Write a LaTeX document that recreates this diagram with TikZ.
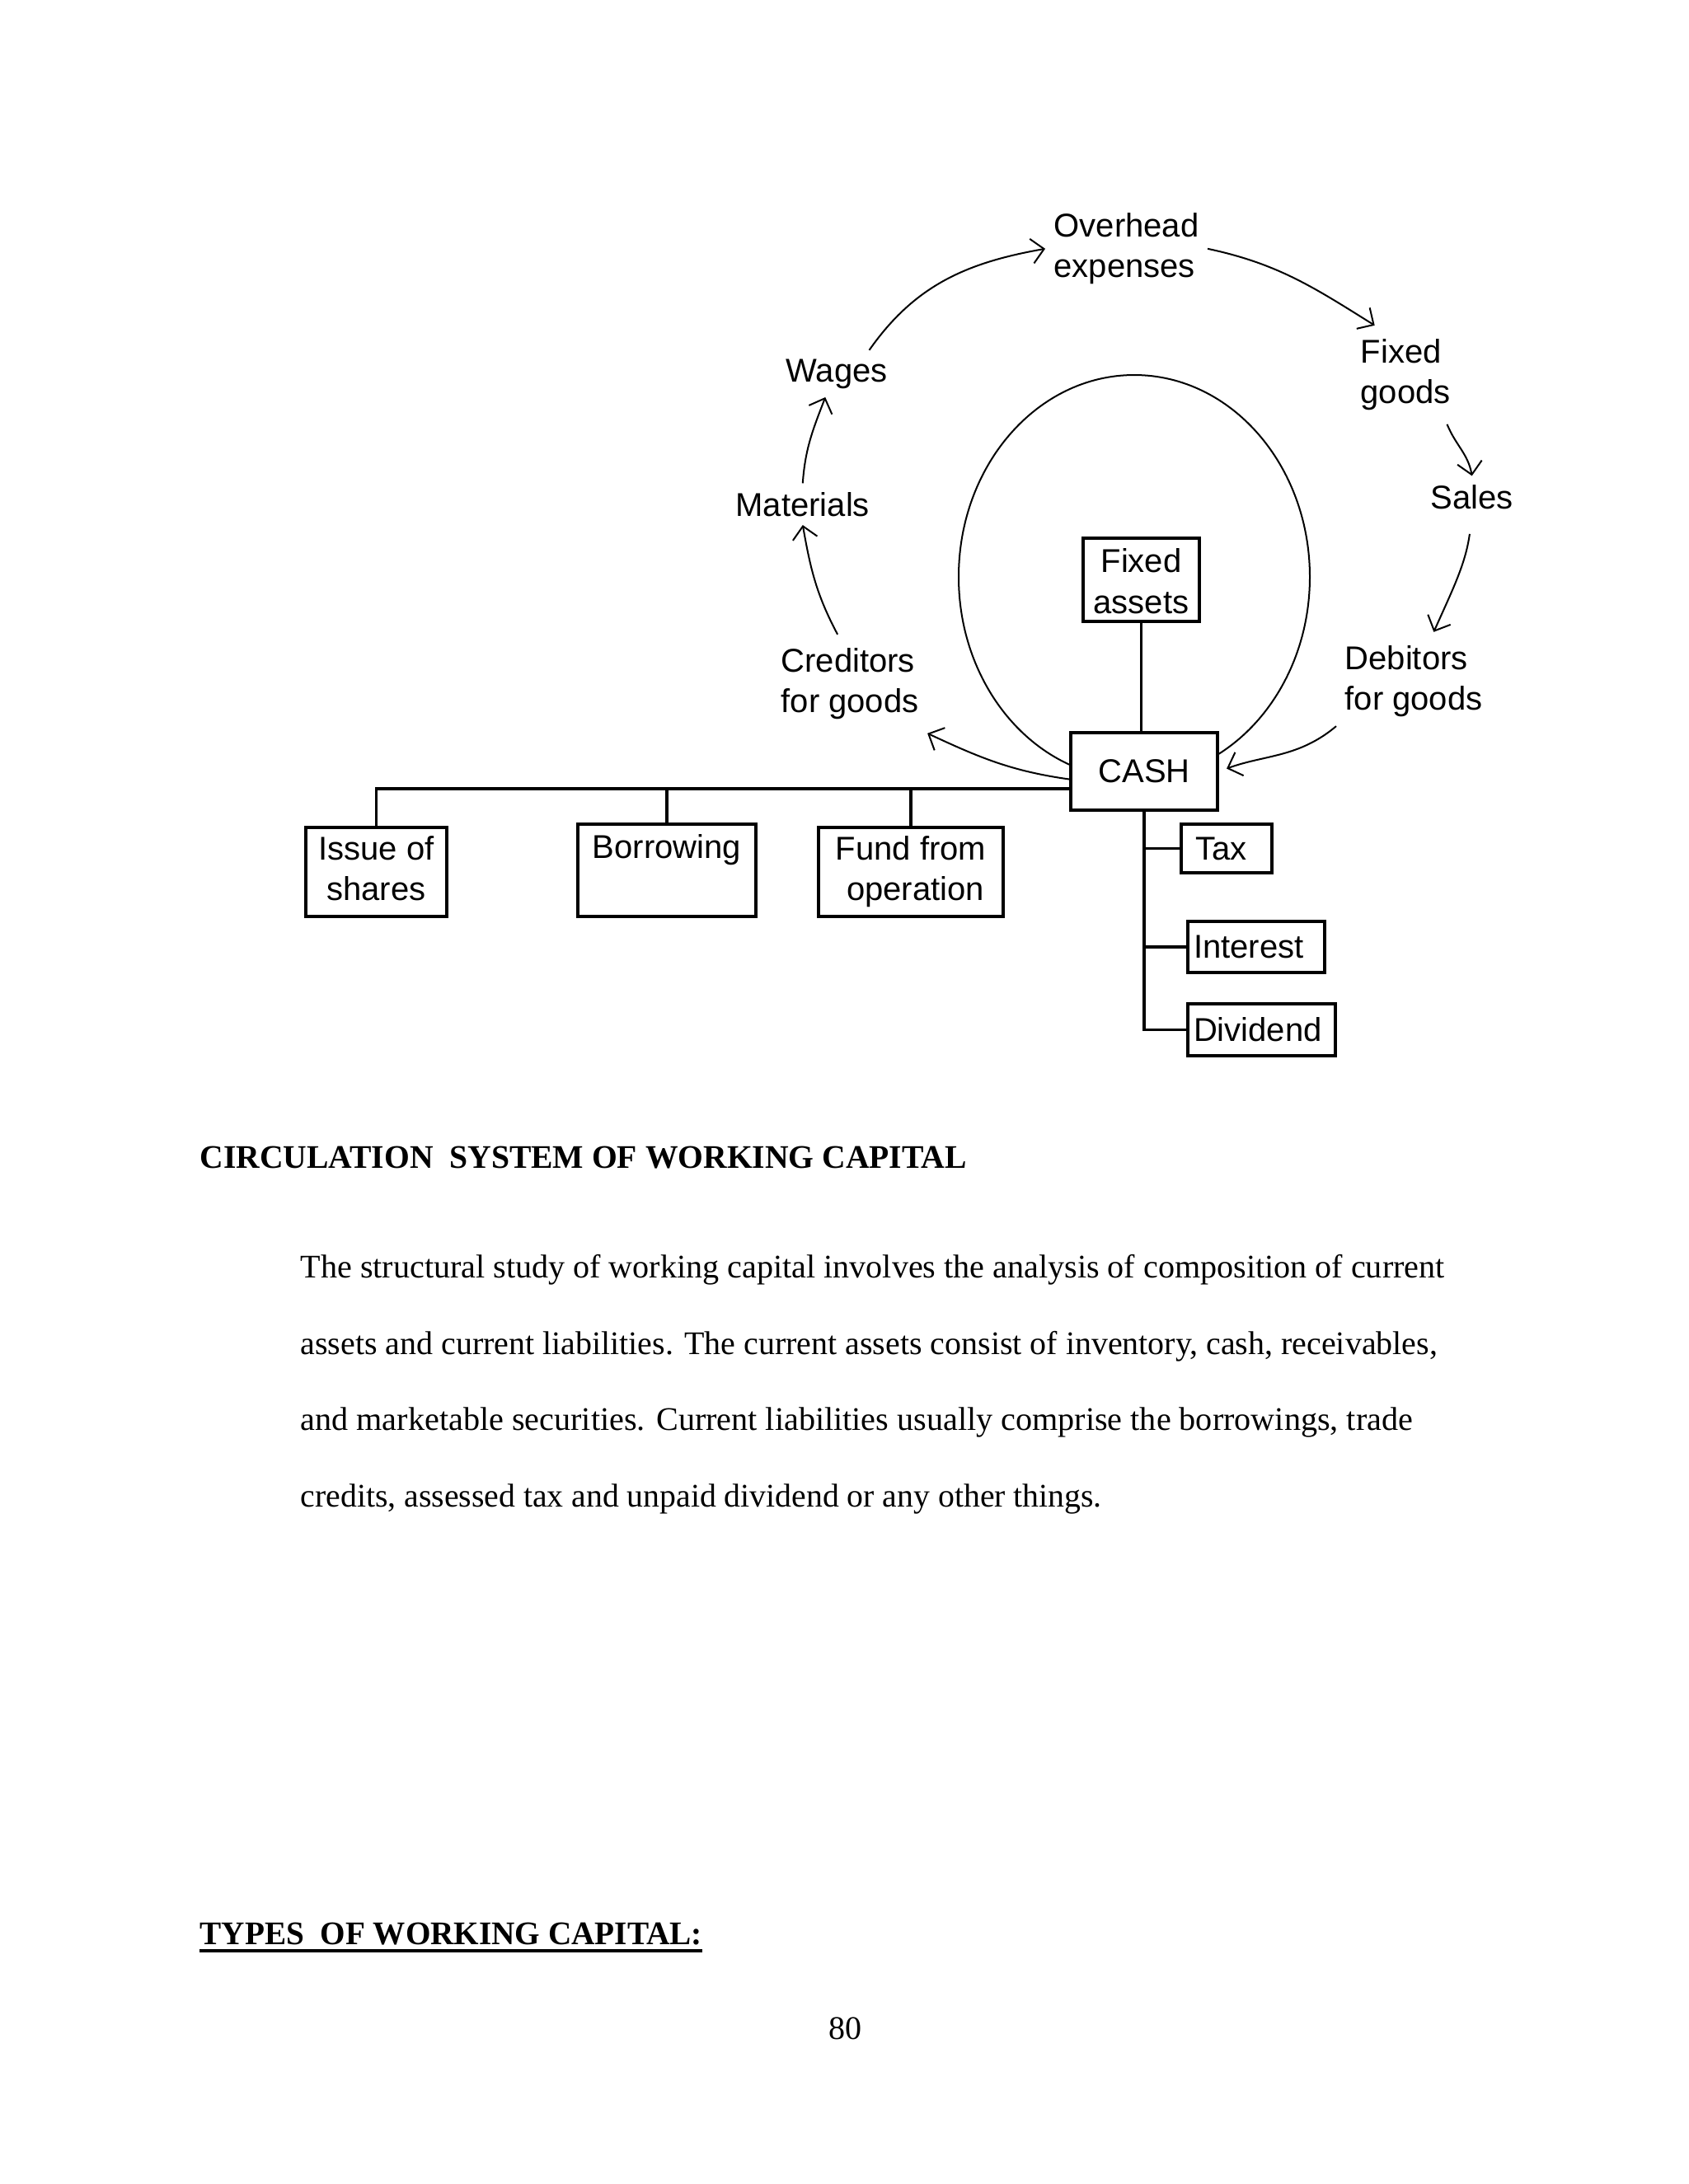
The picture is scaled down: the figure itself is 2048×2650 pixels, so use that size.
\documentclass[tikz,border=0pt]{standalone}
\usepackage{fontspec}
\setmainfont{Liberation Serif}
\newfontfamily\dfont{Liberation Sans}
\usepackage{graphicx}
\usetikzlibrary{arrows.meta}
\newcommand\twol[2]{\begin{tabular}[t]{@{}l@{}}#1\\#2\end{tabular}}
\newcommand\twoc[2]{\begin{tabular}{@{}c@{}}#1\\#2\end{tabular}}
\begin{document}
\begin{tikzpicture}[x=0.29995pt, y=-0.29995pt,
  lbl/.style={font=\dfont\fontsize{12}{14.8}\selectfont, inner sep=3pt, anchor=base west},
  boxn/.style={draw, line width=1pt, fill=white, font=\dfont\fontsize{12}{14.8}\selectfont, inner sep=0pt},
  flow/.style={line width=0.6pt, -{Straight Barb[length=4.5pt,width=9pt]}},
  link/.style={line width=1pt},
  txt/.style={font=\fontsize{12}{14}\selectfont, inner sep=0pt, anchor=base west}]
\useasboundingbox (0,0) rectangle (2048,2650);
\fill[white] (0,0) rectangle (2048,2650);

% ellipse (cash loop)
\draw[line width=0.6pt] (1376,700) ellipse [x radius=213, y radius=245];

% labels of the circulation
\node[lbl] (overhead)   at (1268,287) {\twol{Overhead}{expenses}};
\node[lbl] (wages)      at (943,463)  {Wages};
\node[lbl] (materials)  at (882,626)  {Materials};
\node[lbl] (creditors)  at (937,815)  {\twol{Creditors}{for goods}};
\node[lbl] (fixedgoods) at (1640,440) {\twol{Fixed}{goods}};
\node[lbl] (sales)      at (1725,617) {Sales};
\node[lbl] (debitors)   at (1621,812) {\twol{Debitors}{for goods}};

% boxes
\node[boxn, minimum width=42.3pt, minimum height=30.3pt] (fixedassets) at (1384.5,703.5) {\raisebox{-1.8pt}[\height][\depth]{\twoc{Fixed}{assets}}};
\node[boxn, minimum width=53.4pt, minimum height=28.2pt] (cash) at (1388,936) {CASH};
\node[boxn, minimum width=51.3pt, minimum height=32.4pt] (issue) at (456.5,1058) {\twoc{Issue of}{shares}};
\node[boxn, minimum width=64.8pt, minimum height=33.6pt] (borrow) at (809,1056) {\twoc{Borrowing}{\mbox{}}};
\node[boxn, minimum width=67.2pt, minimum height=32.4pt] (fund) at (1105,1058) {\twoc{Fund from}{\ operation}};
\node[boxn, minimum width=33pt, minimum height=17.7pt, inner xsep=5.1pt] (tax) at (1488,1029.5) {\makebox[22.8pt][l]{Tax}};
\node[boxn, minimum width=49.8pt, minimum height=18.6pt, inner xsep=2.1pt] (interest) at (1524,1149) {\makebox[45.6pt][l]{Interest}};
\node[boxn, minimum width=53.7pt, minimum height=18.9pt, inner xsep=2.1pt] (dividend) at (1530.5,1249.5) {\makebox[49.5pt][l]{Dividend}};

% tree connectors
\draw[link] (fixedassets.south) -- (fixedassets.south |- cash.north);
\coordinate (busend) at (cash.west |- 0,957);
\draw[link] (issue.north) |- (busend);
\draw[link] (borrow.north) -- (borrow.north |- busend);
\draw[link] (fund.north) -- (fund.north |- busend);
\draw[link] (cash.south) |- (dividend.west);
\draw[link] (cash.south |- tax.west) -- (tax.west);
\draw[link] (cash.south |- interest.west) -- (interest.west);

% circulation arrows
\draw[flow] (wages.36) to[out=55, in=190] (overhead.west);
\draw[flow] (overhead.east) to[out=-12, in=148] (fixedgoods.122);
\draw[flow] (fixedgoods.-50) to[out=-68, in=100] (sales.north);
\draw[flow, shorten <=6pt] (sales.south) to[out=-98, in=66] (debitors.68);
\draw[flow, shorten >=3pt] (debitors.210) to[out=220, in=20] (cash.east);
\draw[flow] (cash.186) to[out=172, in=-25] (creditors.south east);
\draw[flow] (creditors.104) to[out=118, in=-80] (materials.south);
\draw[flow] (materials.north) to[out=86, in=-111] (wages.244);

% page text
\node[txt] (heading) at (242,1417) {\resizebox{279pt}{\height}{\bfseries CIRCULATION\ \ SYSTEM OF WORKING CAPITAL}};
\node[txt] (line1) at (364,1550) {\resizebox{416.3pt}{\height}{The structural study of working capital involves the analysis of composition of current}};
\node[txt] (line2) at (364,1643) {\resizebox{413.7pt}{\height}{assets and current liabilities. The current assets consist of inventory, cash, receivables,}};
\node[txt] (line3) at (364,1735) {\resizebox{404.7pt}{\height}{and marketable securities. Current liabilities usually comprise the borrowings, trade}};
\node[txt] (line4) at (364,1828) {\resizebox{291.6pt}{\height}{credits, assessed tax and unpaid dividend or any other things.}};
\node[txt] (types) at (242,2359) {\resizebox{182.7pt}{\height}{\bfseries TYPES\ \ OF WORKING CAPITAL:}};
\draw[line width=1.2pt] ([yshift=-2.4pt]types.base west) -- ([yshift=-2.4pt]types.base east);
\node[txt, anchor=base] (pagenum) at (1025,2474) {80};
\end{tikzpicture}
\end{document}
